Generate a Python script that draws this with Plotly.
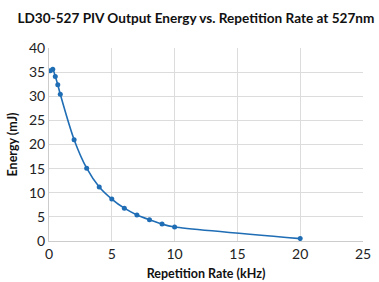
import plotly.graph_objects as go

rate_khz = [0.1, 0.3, 0.5, 0.7, 0.9, 2, 3, 4, 5, 6, 7, 8, 9, 10, 20]
energy_mj = [35.3, 35.6, 34.1, 32.4, 30.4, 21.0, 15.1, 11.2, 8.7, 6.8, 5.4, 4.4, 3.5, 2.9, 0.5]

fig = go.Figure()
fig.add_trace(go.Scatter(
    x=rate_khz, y=energy_mj, mode="lines+markers",
    line=dict(color="#1f6db5", width=1.6, shape="spline", smoothing=0.6),
    marker=dict(color="#1f6db5", size=5),
))
fig.update_layout(
    width=379, height=282,
    margin=dict(l=49, r=16, t=48, b=41),
    paper_bgcolor="white", plot_bgcolor="white",
    showlegend=False,
    title=dict(text="LD30-527 PIV Output Energy vs. Repetition Rate at 527nm",
               x=0.517, xanchor="center", y=0.935, yanchor="middle",
               font=dict(family="Lato", size=13.6, color="#111111", weight="bold")),
    font=dict(family="Lato", color="#222222"),
)
fig.update_xaxes(range=[0, 25], tickvals=[0, 5, 10, 15, 20, 25],
                 showgrid=True, gridcolor="#dcdcdc", gridwidth=1,
                 zeroline=False, showline=True, linecolor="#cccccc",
                 automargin=False, ticklen=0,
                 tickfont=dict(size=14, color="#222222"),
                 title=dict(text="Repetition Rate (kHz)", standoff=8,
                            font=dict(size=12.5, color="#111111", weight="bold")))
fig.update_yaxes(range=[0, 40], tickvals=[0, 5, 10, 15, 20, 25, 30, 35, 40],
                 showgrid=True, gridcolor="#dcdcdc", gridwidth=1,
                 zeroline=False, showline=True, linecolor="#cccccc",
                 automargin=False, ticklen=0,
                 tickfont=dict(size=14, color="#222222"),
                 title=dict(text="Energy (mJ)", standoff=8,
                            font=dict(size=12.5, color="#111111", weight="bold")))
fig.write_html("out.html", config={"displayModeBar": False},
               post_script="document.body.style.margin='0';document.body.style.overflow='hidden';")
